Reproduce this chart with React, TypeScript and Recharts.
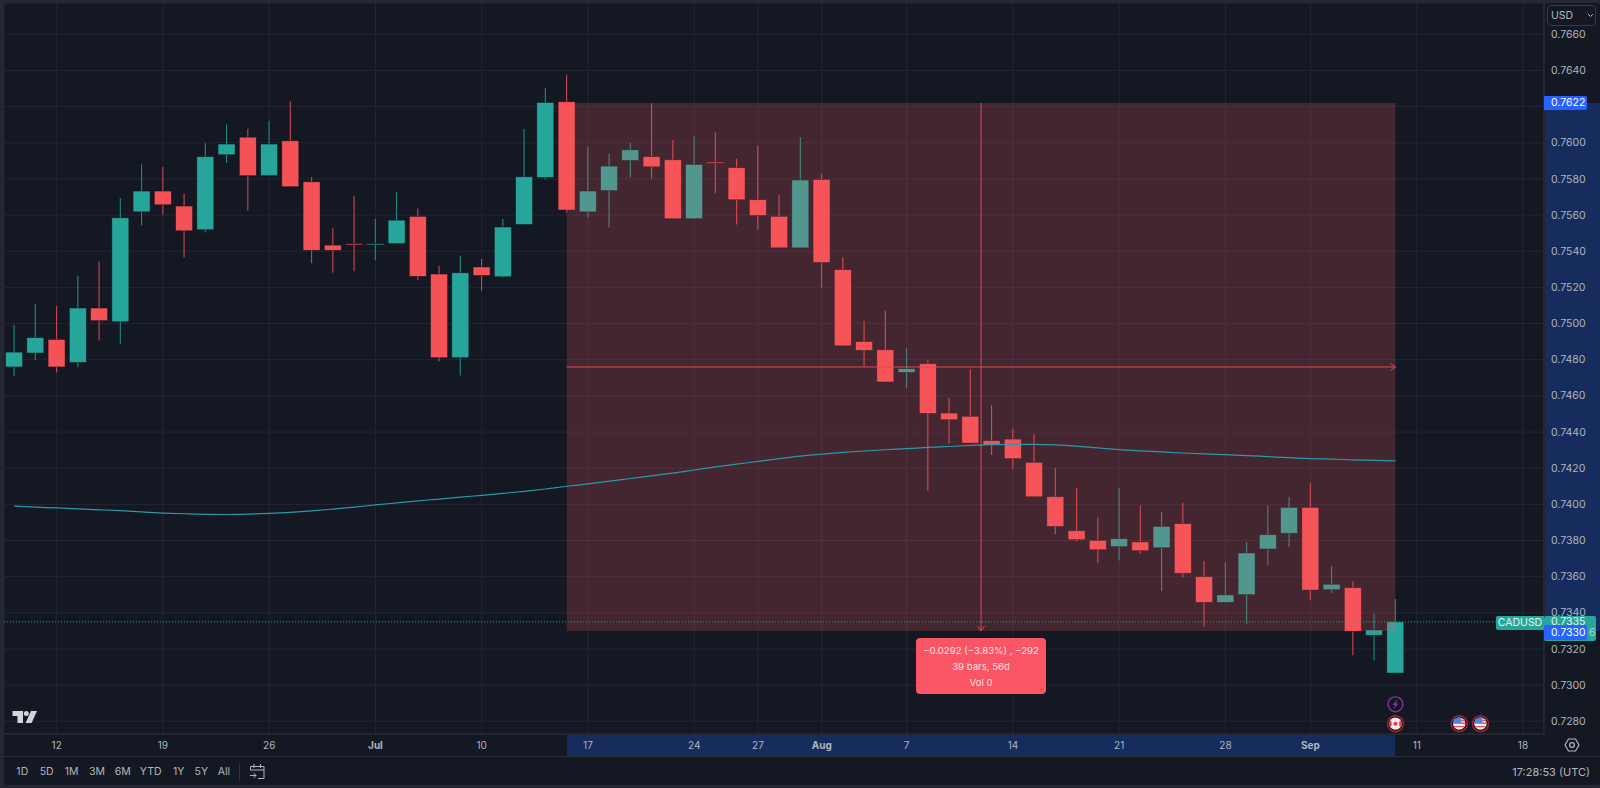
import React from "react";
import { ComposedChart, Bar, Line, XAxis, YAxis, CartesianGrid, ReferenceArea, ReferenceLine, ReferenceDot } from "recharts";

const opens = [.7476,.74837,.74912,.74785,.75086,.7501,.75618,.75733,.7565,.75519,.75934,.76031,.75818,.76011,.75784,.75434,.75442,.75438,.75442,.75593,.75274,.74811,.75313,.75259,.75548,.75808,.76227,.75618,.75736,.75902,.75923,.75906,.7558,.75893,.75862,.75685,.75593,.75419,.75797,.75298,.749,.74855,.7473,.74778,.74505,.74487,.74352,.74361,.74232,.74042,.73854,.73801,.73766,.73792,.7376,.73893,.736,.73458,.73501,.73753,.7384,.73983,.73528,.73539,.73276,.73067];
const closes = [.74842,.74922,.7476,.75086,.75016,.75585,.75733,.75657,.75513,.75923,.75993,.75818,.75993,.75757,.75405,.75405,.75438,.75442,.75572,.75261,.74811,.75281,.75266,.75534,.75812,.76223,.75628,.75733,.75871,.75961,.75867,.7558,.7588,.75886,.75685,.75598,.75419,.75794,.75338,.74877,.74852,.74677,.7475,.74503,.74468,.74339,.74328,.74253,.74042,.73878,.73805,.73749,.7381,.73744,.73878,.73619,.73458,.73499,.73731,.73832,.73983,.73526,.73558,.73298,.73305,.7335];
const highs = [.74992,.75108,.75097,.75265,.75342,.75694,.7588,.75866,.75718,.75998,.76101,.76077,.76122,.7623,.7581,.75528,.75707,.75578,.75727,.75637,.7532,.75375,.75357,.75578,.76076,.76304,.76376,.75976,.75939,.76,.76219,.76015,.76037,.76057,.75912,.75983,.75712,.76031,.75827,.75368,.75016,.75069,.74865,.748,.7459,.74747,.74548,.74419,.74391,.74203,.7409,.7393,.7409,.73994,.73958,.74009,.73687,.73681,.73792,.73994,.74042,.74118,.73657,.73574,.73395,.73477];
const lows = [.74708,.74798,.7473,.74758,.74907,.74889,.75543,.75602,.75366,.75504,.75888,.75624,.75816,.75757,.75333,.75281,.75289,.75349,.75442,.75239,.74791,.74713,.75182,.75254,.75548,.75797,.75615,.75587,.75532,.75808,.75803,.7558,.7558,.7572,.75548,.75519,.75419,.75416,.75198,.74877,.74763,.74677,.74642,.74074,.74337,.74339,.74273,.74195,.74042,.73834,.73795,.73674,.73689,.73727,.73519,.73596,.73324,.73458,.7334,.73663,.73766,.73471,.7351,.73165,.73137,.73064];
const movingAverage = [.7399,.73985,.7398,.73975,.7397,.73965,.73958,.73952,.73948,.73945,.73944,.73946,.7395,.73956,.73964,.73974,.73985,.73997,.74008,.74019,.74029,.7404,.7405,.74061,.74072,.74085,.741,.74113,.74128,.74143,.74158,.74173,.7419,.74207,.74222,.74238,.74253,.74267,.74278,.74287,.74295,.74302,.74308,.74315,.7432,.74326,.7433,.74332,.74332,.74329,.74322,.74312,.74303,.74296,.7429,.74284,.74279,.74275,.7427,.74264,.74258,.74253,.7425,.74246,.74243,.7424];

const xTicks = [2,7,12,17,22,27,32,35,38,42,47,52,57,61,66,71];
const xLabels = ["12","19","26","Jul","10","17","24","27","Aug","7","14","21","28","Sep","11","18"];
const monthLabels = ["Jul","Aug","Sep"];
const priceTicks = [.728,.73,.732,.734,.736,.738,.74,.742,.744,.746,.748,.75,.752,.754,.756,.758,.76,.762,.764,.766];
const rangeButtons = ["1D","5D","1M","3M","6M","YTD","1Y","5Y","All"];
const rangeButtonCenters = [22.3,46.7,71.7,97,122.7,150.7,178.7,201.3,224];
const measureStart = 26, measureEnd = 65, measureMid = 45.5;
const priceTop = .7622, priceBottom = .733, priceMid = .7476, lastPrice = .7335;
const tooltipLines = ["\u22120.0292 (\u22123.83%) , \u2212292","39 bars, 56d","Vol 0"];
const boltEvent = { bar: 65, level: .72894 };
const canadaEvent = { bar: 65, level: .72787 };
const usEvents = [{ bar: 68, level: .72787 }, { bar: 69, level: .72787 }];

const data = opens.map((o, i) => ({ i, open: o, close: closes[i], high: highs[i], low: lows[i], ma: movingAverage[i] }));

const UP = "#26a69a", DOWN = "#f45256", BG = "#141823", GRID = "#232733", TXT = "#b2b5be", BORDER = "#2a2e39", BAND = "#162c5c", BLUE = "#2962ff";
const FONT = "Inter, 'Noto Sans', sans-serif";

const xPx = (i: number) => 14.2 + 21.25 * i;
const yPx = (v: number) => 34.3 + (0.766 - v) * 18079;
const xDomain = [(4 - 14.2) / 21.25, (1544 - 14.2) / 21.25];
const yDomain = [0.766 - (734 - 34.3) / 18079, 0.766 + (34.3 - 3) / 18079];

const Candle = (p: any) => {
  const { x, y, width, height, payload } = p;
  const h = Math.abs(height), top = Math.min(y, y + height);
  const at = (v: number) => top + ((payload.high - v) / (payload.high - payload.low)) * h;
  const up = payload.close >= payload.open;
  const col = up ? UP : DOWN;
  const cx = x + width / 2;
  const bt = at(Math.max(payload.open, payload.close));
  const bb = at(Math.min(payload.open, payload.close));
  return (
    <g>
      <line x1={cx} x2={cx} y1={top} y2={top + h} stroke={up ? "#1f8c82" : "#cc4650"} strokeWidth={1.1} />
      <rect x={x} y={bt} width={width} height={Math.max(bb - bt, 1.2)} fill={col} stroke="#0e1119" strokeOpacity={0.65} strokeWidth={0.7} />
    </g>
  );
};

const XTick = (p: any) => {
  const idx = xTicks.indexOf(p.payload.value);
  const label = xLabels[idx];
  const month = monthLabels.includes(label);
  return <text x={p.x} y={749} textAnchor="middle" fontFamily={FONT} fontSize={10} fontWeight={month ? 700 : 400} fill={TXT}>{label}</text>;
};
const YTick = (p: any) => {
  const v = Number(p.payload.value);
  if (Math.abs(v - priceTop) < 0.0005) return <g />; // hidden under the price badge, as in the picture
  return <text x={1551} y={p.y + 3.6} textAnchor="start" fontFamily={FONT} fontSize={10.5} fill={TXT}>{v.toFixed(4)}</text>;
};

const ArrowRight = (p: any) => <path d={`M${p.cx - 5} ${p.cy - 3.5} L${p.cx} ${p.cy} L${p.cx - 5} ${p.cy + 3.5}`} fill="none" stroke="#d94c58" strokeWidth={1} />;
const ArrowDown = (p: any) => <path d={`M${p.cx - 3.5} ${p.cy - 5} L${p.cx} ${p.cy} L${p.cx + 3.5} ${p.cy - 5}`} fill="none" stroke="#d94c58" strokeWidth={1} />;

const Bolt = (p: any) => (
  <g>
    <circle cx={p.cx} cy={p.cy} r={7.4} fill={BG} stroke="#8c2fa6" strokeWidth={1.4} />
    <path d={`M${p.cx + 2} ${p.cy - 5} L${p.cx - 3} ${p.cy + 0.8} L${p.cx - 0.4} ${p.cy + 0.8} L${p.cx - 2} ${p.cy + 5} L${p.cx + 3} ${p.cy - 0.8} L${p.cx + 0.4} ${p.cy - 0.8} Z`} fill="#8c2fa6" />
  </g>
);
const CanadaFlag = (p: any) => (
  <g>
    <circle cx={p.cx} cy={p.cy} r={8} fill="#0f1119" stroke="#a8252f" strokeWidth={1.5} />
    <circle cx={p.cx} cy={p.cy} r={6.2} fill="#f4e9ea" />
    <path d={`M${p.cx - 6} ${p.cy - 2.5} A6.2 6.2 0 0 0 ${p.cx - 6} ${p.cy + 2.5} L${p.cx - 3.8} ${p.cy + 2.5} L${p.cx - 3.8} ${p.cy - 2.5} Z`} fill="#e03a45" />
    <path d={`M${p.cx + 6} ${p.cy - 2.5} A6.2 6.2 0 0 1 ${p.cx + 6} ${p.cy + 2.5} L${p.cx + 3.8} ${p.cy + 2.5} L${p.cx + 3.8} ${p.cy - 2.5} Z`} fill="#e03a45" />
    <circle cx={p.cx} cy={p.cy} r={2} fill="#e03a45" />
  </g>
);
const UsFlag = (p: any) => (
  <g>
    <circle cx={p.cx} cy={p.cy} r={8} fill="#0f1119" stroke="#a8252f" strokeWidth={1.5} />
    <circle cx={p.cx} cy={p.cy} r={6.2} fill="#f2ecec" />
    <path d={`M${p.cx - 6.2} ${p.cy} A6.2 6.2 0 0 1 ${p.cx + 2} ${p.cy - 5.9} L${p.cx + 2} ${p.cy} Z`} fill="#4d86e0" />
    <path d={`M${p.cx + 2} ${p.cy - 3.2} L${p.cx + 5.2} ${p.cy - 3.2} M${p.cx + 2} ${p.cy - 0.4} L${p.cx + 6.1} ${p.cy - 0.4} M${p.cx - 5.2} ${p.cy + 3} L${p.cx + 5.2} ${p.cy + 3}`} stroke="#e0525c" strokeWidth={1.4} />
  </g>
);

const abs = (s: React.CSSProperties): React.CSSProperties => ({ position: "absolute", ...s });
const text = (s: React.CSSProperties): React.CSSProperties => abs({ fontFamily: FONT, whiteSpace: "nowrap", ...s });

export default function App() {
  return (
    <div style={abs({ left: 0, top: 0, width: 1600, height: 788, background: "#252833", overflow: "hidden" })}>
      <style>{`body{margin:0;background:#252833}`}</style>
      <div style={abs({ left: 4, top: 3, width: 1596, height: 782, background: BG, borderRadius: 3 })} />
      {/* measured range bands on both axes */}
      <div style={abs({ left: xPx(measureStart), top: 735, width: xPx(measureEnd) - xPx(measureStart), height: 21, background: BAND })} />
      <div style={abs({ left: 1545, top: yPx(priceTop), width: 55, height: yPx(priceBottom) - yPx(priceTop), background: BAND })} />

      <div style={abs({ left: 0, top: 0 })}>
        <ComposedChart width={1600} height={788} data={data} margin={{ top: 3, left: 4, right: 0, bottom: 32 }} barSize={17}>
          <CartesianGrid stroke={GRID} strokeWidth={1} />
          <XAxis dataKey="i" type="number" domain={xDomain} ticks={xTicks} interval={0} allowDataOverflow height={22} tick={<XTick />} tickLine={false} axisLine={{ stroke: BORDER }} />
          <YAxis orientation="right" type="number" domain={yDomain} ticks={priceTicks} interval={0} allowDataOverflow width={56} tick={<YTick />} tickLine={false} axisLine={{ stroke: BORDER }} />
          <Bar dataKey={(d: any) => [d.low, d.high]} shape={<Candle />} isAnimationActive={false} />
          <ReferenceArea {...({ zIndex: 350 } as any)} x1={measureStart} x2={measureEnd} y1={priceBottom} y2={priceTop} fill="#ff5e64" fillOpacity={0.2} stroke="none" />
          <ReferenceLine y={lastPrice} stroke={UP} strokeDasharray="1 2" strokeWidth={1} />
          <ReferenceLine segment={[{ x: measureStart, y: priceMid }, { x: measureEnd, y: priceMid }]} stroke="#d94c58" strokeWidth={1} />
          <ReferenceLine segment={[{ x: measureMid, y: priceTop }, { x: measureMid, y: priceBottom }]} stroke="#d94c58" strokeWidth={1} />
          <ReferenceDot x={measureEnd} y={priceMid} shape={<ArrowRight />} />
          <ReferenceDot x={measureMid} y={priceBottom} shape={<ArrowDown />} />
          <Line dataKey="ma" type="monotone" stroke="#2b98aa" strokeWidth={1.2} dot={false} isAnimationActive={false} />
          <ReferenceDot x={boltEvent.bar} y={boltEvent.level} shape={<Bolt />} />
          <ReferenceDot x={canadaEvent.bar} y={canadaEvent.level} shape={<CanadaFlag />} />
          {usEvents.map((e) => <ReferenceDot key={e.bar} x={e.bar} y={e.level} shape={<UsFlag />} />)}
        </ComposedChart>
      </div>

      {/* axis separators */}
      <div style={abs({ left: 4, top: 756, width: 1596, height: 1, background: BORDER })} />

      {/* price badges */}
      <div style={text({ left: 1496, top: 616, width: 48, height: 14, lineHeight: "14px", background: UP, color: "#e6f4f2", fontSize: 10.5, textAlign: "center", borderRadius: "2px 0 0 2px" })}>CADUSD</div>
      <div style={abs({ left: 1544, top: 616, width: 52, height: 25, background: UP, borderRadius: 2 })} />
      <div style={text({ left: 1551, top: 615, fontSize: 10.5, lineHeight: "14px", color: "#e6f4f2" })}>{lastPrice.toFixed(4)}</div>
      <div style={text({ left: 1589, top: 627, fontSize: 10.5, lineHeight: "12px", color: "#9fdcd4" })}>6</div>
      <div style={text({ left: 1544, top: 625, width: 43, height: 15, lineHeight: "15px", background: BLUE, color: "#fff", fontSize: 10.5, paddingLeft: 7, boxSizing: "border-box", borderRadius: "0 2px 2px 0" })}>{priceBottom.toFixed(4)}</div>
      <div style={text({ left: 1544, top: 96, width: 43, height: 14, lineHeight: "14px", background: BLUE, color: "#fff", fontSize: 10.5, paddingLeft: 7, boxSizing: "border-box", borderRadius: "0 2px 2px 0" })}>{priceTop.toFixed(4)}</div>

      {/* measure tooltip */}
      <div style={text({ left: 916, top: 638, width: 130, height: 56, background: "#fa5565", borderRadius: 4, color: "#fde3e6", fontSize: 9.6, textAlign: "center" })}>
        {tooltipLines.map((l, i) => <div key={i} style={abs({ left: 0, width: 130, top: 6 + i * 16, lineHeight: "14px" })}>{l}</div>)}
      </div>

      {/* currency button */}
      <div style={text({ left: 1547, top: 5, width: 49, height: 21, boxSizing: "border-box", border: "1px solid #363a45", borderRadius: 4, color: TXT, fontSize: 10.5, lineHeight: "19px", paddingLeft: 3 })}>USD</div>
      <svg style={abs({ left: 1587, top: 13, width: 8, height: 6 })}><path d="M1 1 L3.5 3.5 L6 1" fill="none" stroke={TXT} strokeWidth={1} /></svg>

      {/* logo */}
      <svg style={abs({ left: 12, top: 710, width: 26, height: 14 })} viewBox="0 0 26 14">
        <path d="M0.5 1 H11 V13 H5.5 V6 H0.5 Z" fill="#d1d4dc" />
        <circle cx="14.3" cy="3.6" r="2.5" fill="#d1d4dc" />
        <path d="M19 1 H25 L19.6 13 H13.6 Z" fill="#d1d4dc" />
      </svg>

      {/* settings icon */}
      <svg style={abs({ left: 1564, top: 737, width: 16, height: 16 })} viewBox="0 0 16 16">
        <path d="M4.5 2 H11.5 L15 8 L11.5 14 H4.5 L1 8 Z" fill="none" stroke={TXT} strokeWidth={1.2} />
        <circle cx="8" cy="8" r="2.4" fill="none" stroke={TXT} strokeWidth={1.2} />
      </svg>

      {/* bottom toolbar */}
      {rangeButtons.map((b, i) => (
        <div key={b} style={text({ left: rangeButtonCenters[i] - 15, width: 30, top: 765, lineHeight: "14px", textAlign: "center", fontSize: 10.5, color: TXT })}>{b}</div>
      ))}
      <div style={abs({ left: 239, top: 763, width: 1, height: 17, background: "#2f333e" })} />
      <svg style={abs({ left: 249, top: 763, width: 17, height: 17 })} viewBox="0 0 17 17">
        <path d="M1.5 7 V3.5 H15 V15.5 H9 M1.5 7 H15 M5 1 V5 M11.5 1 V5 M1 12.5 H7 M4.5 10 L7 12.5 L4.5 15" fill="none" stroke={TXT} strokeWidth={1} />
      </svg>
      <div style={text({ right: 10, top: 765, lineHeight: "14px", fontSize: 11, color: TXT })}>17:28:53 (UTC)</div>
    </div>
  );
}
